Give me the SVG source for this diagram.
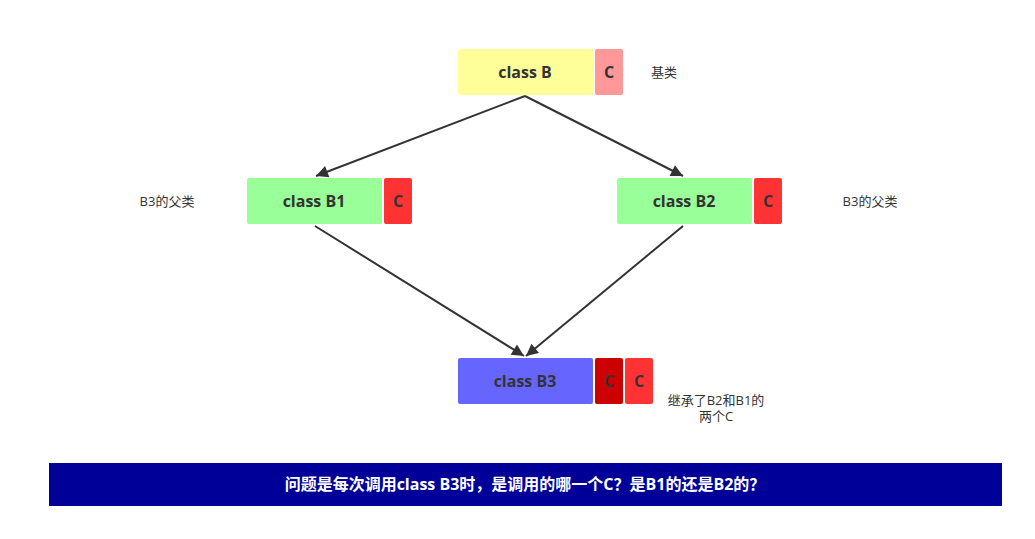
<svg xmlns="http://www.w3.org/2000/svg" width="1035" height="539" viewBox="0 0 1035 539">
<style>
.lbl{font-family:"Open Sans","Noto Sans CJK SC",sans-serif;font-weight:bold;font-size:16px;fill:#333333;text-anchor:middle;dominant-baseline:central}
.note{font-family:"Open Sans","Noto Sans CJK SC",sans-serif;font-size:13px;fill:#333333;text-anchor:middle;dominant-baseline:central}
.edge{stroke:#333333;stroke-width:2;fill:none;marker-end:url(#ah)}
.ban{font-family:"Open Sans","Noto Sans CJK SC",sans-serif;font-weight:bold;font-size:16px;fill:#ffffff;text-anchor:middle;dominant-baseline:central}
</style>
<defs>
<marker id="ah" viewBox="0 0 10 10" refX="10" refY="5" markerWidth="16" markerHeight="12" markerUnits="userSpaceOnUse" orient="auto">
<path d="M0,0 L10,5 L0,10 Z" fill="#333333"/>
</marker>
</defs>
<rect width="1035" height="539" fill="#ffffff"/>
<g id="connectors">
<line class="edge" x1="525" y1="96" x2="316" y2="176"/>
<line class="edge" x1="525" y1="96" x2="683" y2="176"/>
<line class="edge" x1="315" y1="226" x2="524" y2="356"/>
<line class="edge" x1="683" y1="226" x2="526" y2="356"/>
</g>
<g id="classB">
<rect x="458" y="49" width="136" height="46" rx="2" fill="#FFFF99"/>
<text class="lbl" x="525" y="72">class B</text>
<rect x="595" y="49" width="28" height="46" rx="2" fill="#FF9999"/>
<text class="lbl" x="609" y="72">C</text>
<text class="note" x="664" y="72">基类</text>
</g>
<g id="classB1">
<rect x="247" y="178" width="135" height="46" rx="2" fill="#99FF99"/>
<text class="lbl" x="314" y="201">class B1</text>
<rect x="384" y="178" width="28" height="46" rx="2" fill="#FF3333"/>
<text class="lbl" x="398" y="201">C</text>
<text class="note" x="167" y="201">B3的父类</text>
</g>
<g id="classB2">
<rect x="617" y="178" width="135" height="46" rx="2" fill="#99FF99"/>
<text class="lbl" x="684" y="201">class B2</text>
<rect x="754" y="178" width="28" height="46" rx="2" fill="#FF3333"/>
<text class="lbl" x="768" y="201">C</text>
<text class="note" x="870" y="201">B3的父类</text>
</g>
<g id="classB3">
<rect x="458" y="358" width="135" height="46" rx="2" fill="#6666FF"/>
<text class="lbl" x="525" y="381">class B3</text>
<rect x="595" y="358" width="28" height="46" rx="2" fill="#CC0000"/>
<text class="lbl" x="609" y="381">C</text>
<rect x="625" y="358" width="28" height="46" rx="2" fill="#FF3333"/>
<text class="lbl" x="639" y="381">C</text>
<text class="note" x="716" y="400">继承了B2和B1的</text>
<text class="note" x="716" y="416">两个C</text>
</g>
<g id="banner">
<rect x="49" y="463" width="953" height="43" fill="#000099"/>
<text class="ban" x="525" y="484">问题是每次调用class B3时，是调用的哪一个C？是B1的还是B2的？</text>
</g>
</svg>
